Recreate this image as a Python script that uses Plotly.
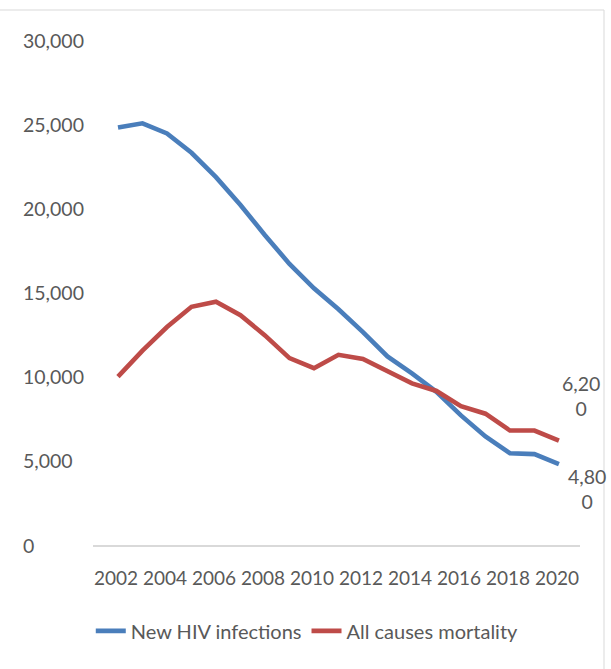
import plotly.graph_objects as go

# Annual series, 2002-2020
years = list(range(2002, 2021))
new_hiv_infections = [24800, 25050, 24450, 23300, 21850, 20200, 18400, 16700, 15250, 14000,
                      12650, 11200, 10200, 9100, 7700, 6450, 5450, 5400, 4800]
all_causes_mortality = [10000, 11550, 12950, 14150, 14450, 13650, 12450, 11100, 10500, 11300,
                        11050, 10300, 9600, 9150, 8250, 7800, 6800, 6800, 6200]

x_tick_years = list(range(2002, 2021, 2))
x_tick_labels = [str(y) for y in x_tick_years]
y_tick_values = [0, 5000, 10000, 15000, 20000, 25000, 30000]
y_tick_labels = ["0", "5,000", "10,000", "15,000", "20,000", "25,000", "30,000"]

series_names = ["New HIV infections", "All causes mortality"]
BLUE = "#4a7ebb"
RED = "#be4b48"
GREY_TEXT = "#595959"
FONT = "Lato"

fig = go.Figure()
fig.add_trace(go.Scatter(x=years, y=new_hiv_infections, mode="lines", name=series_names[0],
                         line=dict(color=BLUE, width=4.6)))
fig.add_trace(go.Scatter(x=years, y=all_causes_mortality, mode="lines", name=series_names[1],
                         line=dict(color=RED, width=4.6)))


def wrapped(v):
    s = f"{v:,}"
    return s[:-1] + "<br>" + s[-1]


annotations = []
# value axis labels, left aligned
for v, t in zip(y_tick_values, y_tick_labels):
    annotations.append(dict(xref="paper", yref="y", x=-0.1485, y=v, text=t, showarrow=False,
                            xanchor="left", yanchor="middle",
                            font=dict(family=FONT, size=19.5, color=GREY_TEXT)))
# end-of-line data labels
annotations.append(dict(x=years[-1], y=all_causes_mortality[-1], text=wrapped(all_causes_mortality[-1]),
                        showarrow=False, xanchor="center", yanchor="middle", xshift=22, yshift=45,
                        align="center", font=dict(family=FONT, size=19.5, color=GREY_TEXT)))
annotations.append(dict(x=years[-1], y=new_hiv_infections[-1], text=wrapped(new_hiv_infections[-1]),
                        showarrow=False, xanchor="center", yanchor="middle", xshift=28, yshift=-25,
                        align="center", font=dict(family=FONT, size=19.5, color=GREY_TEXT)))

fig.update_layout(
    width=611, height=669,
    margin=dict(l=93, r=31, t=40, b=124),
    paper_bgcolor="white", plot_bgcolor="white",
    font=dict(family=FONT, color=GREY_TEXT),
    showlegend=True,
    legend=dict(orientation="h", x=0.44, xanchor="center", y=-0.17, yanchor="middle",
                font=dict(family=FONT, size=20, color=GREY_TEXT), itemwidth=30,
                bgcolor="rgba(0,0,0,0)"),
    annotations=annotations,
    shapes=[dict(type="rect", xref="paper", yref="paper", x0=-0.3, x1=1.0493, y0=-0.4, y1=1.0594,
                 line=dict(color="#d9d9d9", width=1), fillcolor="rgba(0,0,0,0)", layer="below")],
)
fig.update_xaxes(range=[2000.98, 2020.86], tickmode="array", tickvals=x_tick_years, ticktext=x_tick_labels,
                 showgrid=False, zeroline=False, showline=True, linecolor="#d9d9d9", linewidth=1.5,
                 ticks="", ticklabelshift=-2, ticklabelstandoff=15,
                 tickfont=dict(family=FONT, size=19, color=GREY_TEXT))
fig.update_yaxes(range=[0, 30000], showgrid=False, zeroline=False, showline=False,
                 showticklabels=False, ticks="")

fig.write_html("out.html")
